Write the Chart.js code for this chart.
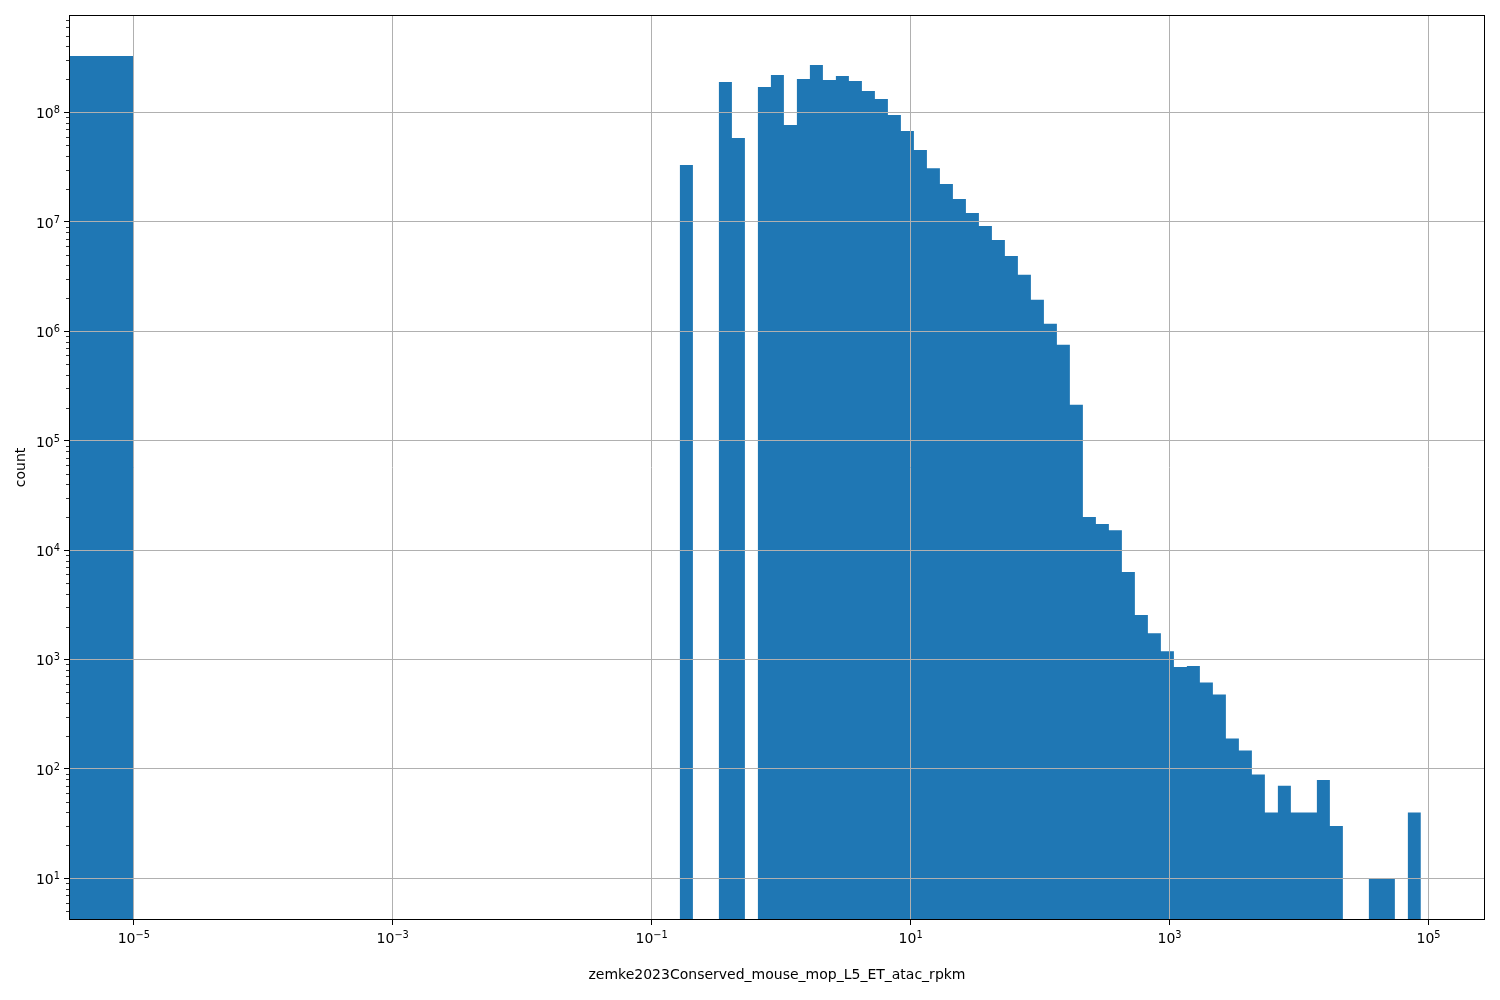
<!DOCTYPE html>
<html>
<head>
<meta charset="utf-8">
<title>zemke2023Conserved_mouse_mop_L5_ET_atac_rpkm histogram</title>
<script src="https://cdn.jsdelivr.net/npm/chart.js@4"></script>
<style>
  html, body { margin: 0; padding: 0; background: #fff; }
</style>
</head>
<body>
<canvas id="hist" width="1500" height="1000"></canvas>
<script>
// zero-valued bin: its left edge lies off the axis, right edge is 1e-5
const zeroBinEdges = [1e-6, 1e-5];
const zeroBinCount = 3.27e8;

// log-spaced bin edges (rpkm) and counts per bin
const binEdges = [
  0.1652, 0.2082, 0.2623, 0.3305, 0.4165, 0.5248, 0.6613, 0.8333,
  1.050, 1.323, 1.667, 2.101, 2.647, 3.336, 4.204, 5.297, 6.675, 8.411,
  10.60, 13.36, 16.83, 21.21, 26.73, 33.68, 42.44, 53.46, 67.37, 84.90,
  107.0, 134.8, 169.8, 214.0, 269.7, 339.8, 428.2, 539.5, 679.9, 856.7,
  1080, 1360, 1714, 2160, 2722, 3430, 4322, 5445, 6862, 8646,
  10900, 13730, 17300, 21800, 27470, 34610, 43610, 54950, 69250, 87260
];
const binCounts = [
  3.30e7, 0, 0, 1.89e8, 5.82e7, 0, 1.70e8, 2.19e8,
  7.65e7, 2.02e8, 2.71e8, 1.97e8, 2.15e8, 1.93e8, 1.57e8, 1.32e8,
  9.45e7, 6.75e7, 4.52e7, 3.08e7, 2.21e7, 1.61e7, 1.20e7, 9.15e6,
  6.82e6, 4.87e6, 3.27e6, 1.94e6, 1.17e6, 7.52e5, 2.13e5, 2.00e4,
  1.73e4, 1.52e4, 6290, 2550, 1740, 1190, 853, 871,
  616, 479, 190, 147, 89, 40, 70, 40,
  40, 79, 30, 0, 0, 10, 10, 0,
  40
];

const xTicks = [1e-5, 1e-3, 1e-1, 1e1, 1e3, 1e5];
const yTicks = [1e1, 1e2, 1e3, 1e4, 1e5, 1e6, 1e7, 1e8];
const xRange = [3.16e-6, 2.73e5];
const yRange = [4.16, 7.75e8];
const xLabel = 'zemke2023Conserved_mouse_mop_L5_ET_atac_rpkm';
const yLabel = 'count';

// empty bins are sent below the visible axis so the step outline drops out of view
const FLOOR = 1;
const points = [];
points.push({ x: zeroBinEdges[0], y: zeroBinCount });
points.push({ x: zeroBinEdges[1], y: FLOOR });
binCounts.forEach((c, i) => points.push({ x: binEdges[i], y: c > 0 ? c : FLOOR }));
points.push({ x: binEdges[binEdges.length - 1], y: FLOOR });

const FONT = '"DejaVu Sans"';

// "10" with a raised exponent, like matplotlib's mathtext labels
function drawPow(ctx, v, x, baseline, align) {
  const exp = String(Math.round(Math.log10(v))).replace('-', '\u2212');
  ctx.font = '14px ' + FONT;
  const wb = ctx.measureText('10').width;
  ctx.font = '9.8px ' + FONT;
  const we = ctx.measureText(exp).width;
  const x0 = align === 'center' ? x - (wb + we) / 2 : x - (wb + we);
  ctx.textAlign = 'left';
  ctx.textBaseline = 'alphabetic';
  ctx.font = '14px ' + FONT;
  ctx.fillText('10', x0, baseline);
  ctx.font = '9.8px ' + FONT;
  ctx.fillText(exp, x0 + wb, baseline - 5);
}

const frame = {
  id: 'frame',
  afterDraw(chart) {
    const { ctx, chartArea: a, scales } = chart;
    ctx.save();
    ctx.strokeStyle = '#000';
    ctx.fillStyle = '#000';
    // minor ticks on the count axis
    ctx.lineWidth = 0.8;
    ctx.beginPath();
    for (let d = 0; d <= 8; d++) {
      for (let m = 2; m <= 9; m++) {
        const v = m * Math.pow(10, d);
        if (v < scales.y.min || v > scales.y.max) continue;
        const py = Math.round(scales.y.getPixelForValue(v)) + 0.5;
        ctx.moveTo(a.left - 3, py);
        ctx.lineTo(a.left, py);
      }
    }
    ctx.stroke();
    ctx.lineWidth = 1;
    ctx.strokeRect(Math.round(a.left) + 0.5, Math.round(a.top) + 0.5,
      Math.round(a.right - a.left) - 1, Math.round(a.bottom - a.top) - 1);
    // tick labels
    xTicks.forEach(v => drawPow(ctx, v, scales.x.getPixelForValue(v), a.bottom + 23, 'center'));
    yTicks.forEach(v => drawPow(ctx, v, a.left - 9, scales.y.getPixelForValue(v) + 6, 'right'));
    ctx.restore();
  }
};

Chart.defaults.font.family = 'DejaVu Sans';
Chart.defaults.font.size = 14;
Chart.defaults.color = '#000';

new Chart(document.getElementById('hist'), {
  type: 'line',
  data: {
    datasets: [{
      data: points,
      stepped: 'before',
      fill: 'start',
      backgroundColor: '#1f77b4',
      borderWidth: 0,
      pointRadius: 0
    }]
  },
  options: {
    responsive: false,
    animation: false,
    layout: { padding: { top: 15, right: 15, left: 0, bottom: 0 } },
    plugins: { legend: { display: false }, tooltip: { enabled: false } },
    scales: {
      x: {
        type: 'logarithmic',
        min: xRange[0],
        max: xRange[1],
        bounds: 'data',
        z: 1,
        afterBuildTicks: s => { s.ticks = xTicks.map(v => ({ value: v })); },
        afterFit: s => { s.height = 80; },
        grid: { color: '#b0b0b0', lineWidth: 1, z: 1, tickLength: 5, tickColor: '#000', tickWidth: 1 },
        border: { display: false },
        ticks: { display: false },
        title: { display: true, text: xLabel, padding: { top: 0, bottom: 16 } }
      },
      y: {
        type: 'logarithmic',
        min: yRange[0],
        max: yRange[1],
        bounds: 'data',
        z: 1,
        afterBuildTicks: s => { s.ticks = yTicks.map(v => ({ value: v })); },
        afterFit: s => { s.width = 69; },
        grid: { color: '#b0b0b0', lineWidth: 1, z: 1, tickLength: 5, tickColor: '#000', tickWidth: 1 },
        border: { display: false },
        ticks: { display: false },
        title: { display: true, text: yLabel, padding: { top: 13, bottom: 0 } }
      }
    }
  },
  plugins: [frame]
});
</script>
</body>
</html>
